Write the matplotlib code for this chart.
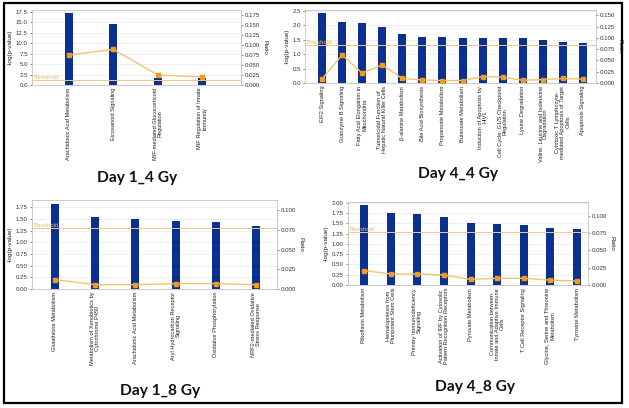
import matplotlib
matplotlib.use("Agg")
import matplotlib.pyplot as plt
from matplotlib.patches import Rectangle

plt.rcParams["font.family"] = ["Liberation Sans Narrow", "Liberation Sans", "DejaVu Sans"]

W, H = 629, 408
BAR = "#0a3191"
MARK = "#f09a1e"
LINE = "#f3c46e"
THRESH = 1.3

# Day 1_4 Gy
d14_names = ["Arachidonic Acid Metabolism", "Eicosanoid Signaling",
             "MIF-mediated Glucocorticoid\nRegulation", "MIF Regulation of Innate\nImmunity"]
d14_logp = [17.26, 14.56, 1.75, 1.59]
d14_ratio = [0.075, 0.089, 0.025, 0.020]

# Day 4_4 Gy
d44_names = ["EIF2 Signaling", "Granzyme B Signaling", "Fatty Acid Elongation in\nMitochondria",
             "Tumoricidal Function of\nHepatic Natural Killer Cells", "β-alanine Metabolism",
             "Bile Acid Biosynthesis", "Propanoate Metabolism", "Butanoate Metabolism",
             "Induction of Apoptosis by\nHIV1", "Cell Cycle: G1/S Checkpoint\nRegulation",
             "Lysine Degradation", "Valine, Leucine and Isoleucine\nDegradation",
             "Cytotoxic T Lymphocyte-\nmediated Apoptosis of Target\nCells", "Apoptosis Signaling"]
d44_logp = [2.43, 2.11, 2.06, 1.95, 1.70, 1.59, 1.58, 1.55, 1.54, 1.54, 1.54, 1.50, 1.42, 1.37]
d44_ratio = [0.009, 0.062, 0.022, 0.040, 0.010, 0.0067, 0.0053, 0.0053, 0.0143, 0.013,
             0.006, 0.0075, 0.010, 0.0085]

# Day 1_8 Gy
d18_names = ["Glutathione Metabolism", "Metabolism of Xenobiotics by\nCytochrome P450",
             "Arachidonic Acid Metabolism", "Aryl Hydrocarbon Receptor\nSignaling",
             "Oxidative Phosphorylation", "NRF2-mediated Oxidative\nStress Response"]
d18_logp = [1.82, 1.54, 1.50, 1.46, 1.44, 1.36]
d18_ratio = [0.0119, 0.0055, 0.0055, 0.0068, 0.0068, 0.0055]

# Day 4_8 Gy
d48_names = ["Riboflavin Metabolism", "Hematopoiesis from\nPluripotent Stem Cells",
             "Primary Immunodeficiency\nSignaling", "Activation of IRF by Cytosolic\nPattern Recognition Receptors",
             "Pyruvate Metabolism", "Communication between\nInnate and Adaptive Immune\nCells",
             "T Cell Receptor Signaling", "Glycine, Serine and Threonine\nMetabolism", "Tyrosine Metabolism"]
d48_logp = [1.95, 1.75, 1.73, 1.65, 1.50, 1.49, 1.45, 1.39, 1.37]
d48_ratio = [0.0208, 0.016, 0.016, 0.0145, 0.008, 0.0097, 0.0097, 0.007, 0.0058]


def px_rect(x0, y0, x1, y1):
    return [x0 / W, 1 - y1 / H, (x1 - x0) / W, (y1 - y0) / H]


def draw_panel(fig, box, names, logp, ratio, ylim, ystep, yfmt, rlim, bar_px, xpad, title, title_xy):
    ax = fig.add_axes(px_rect(*box))
    n = len(names)
    x = list(range(n))
    spacing = (box[2] - box[0]) / (n - 1 + xpad[0] + xpad[1])
    ax.set_xlim(-xpad[0], n - 1 + xpad[1])
    ax.set_ylim(*ylim)

    yt = [i * ystep for i in range(int(ylim[1] / ystep + 1e-6) + 1)]
    ax.set_yticks(yt)
    ax.set_yticklabels([yfmt % v for v in yt])
    ax.yaxis.grid(True, color="#ececec", lw=0.6)
    ax.set_axisbelow(True)

    ax.bar(x, logp, width=bar_px / spacing, color=BAR, zorder=2)
    ax.axhline(THRESH, color="#f2c88a", lw=0.7, zorder=3)
    ax.text(-xpad[0] + 0.02, THRESH, "Threshold", color="#eab862", fontsize=4.2,
            va="bottom", ha="left", zorder=4)

    ax.set_xticks(x)
    ax.set_xticklabels(names, rotation=90, fontsize=4.1, ha="center", va="top",
                       multialignment="center", color="#222222", linespacing=1.0)
    ax.tick_params(axis="x", length=0, pad=2)
    ax.tick_params(axis="y", labelsize=4.4, length=1.5, width=0.4, pad=1.5,
                   colors="#333333")
    ax.set_ylabel("-log(p-value)", fontsize=4.6, labelpad=2, color="#222222")
    for s in ax.spines.values():
        s.set_color("#c8c8c8")
        s.set_linewidth(0.5)

    ax2 = ax.twinx()
    ax2.set_ylim(*rlim)
    rt = [i * 0.025 for i in range(int(rlim[1] / 0.025 + 1e-6) + 1)]
    ax2.set_yticks(rt)
    ax2.set_yticklabels(["%.3f" % v for v in rt])
    ax2.plot(x, ratio, color=LINE, lw=1.0, zorder=5)
    ax2.plot(x, ratio, ls="none", marker="s", ms=2.6, color=MARK, zorder=6)
    ax2.tick_params(axis="y", labelsize=4.4, length=1.5, width=0.4, pad=1.5,
                    colors="#333333")
    ax2.set_ylabel("Ratio", fontsize=4.6, rotation=-90, labelpad=5, color="#222222")
    for s in ax2.spines.values():
        s.set_color("#c8c8c8")
        s.set_linewidth(0.5)

    fig.text(title_xy[0] / W, 1 - title_xy[1] / H, title, fontsize=11.2,
             fontweight="bold", family="Lato", ha="center", va="center", color="#111111")


fig = plt.figure(figsize=(W / 100, H / 100), dpi=100)

draw_panel(fig, (32, 10, 241, 85), d14_names, d14_logp, d14_ratio, (0, 17.9), 2.5, "%.1f",
           (0, 0.1875), 8, (0.83, 0.87), "Day 1_4 Gy", (137, 178))
draw_panel(fig, (305, 10, 596, 83), d44_names, d44_logp, d44_ratio, (0, 2.52), 0.5, "%.1f",
           (0, 0.162), 8, (0.85, 0.65), "Day 4_4 Gy", (458, 174))
draw_panel(fig, (32, 200, 277, 289), d18_names, d18_logp, d18_ratio, (0, 1.91), 0.25, "%.2f",
           (0, 0.1127), 8, (0.57, 0.52), "Day 1_8 Gy", (160, 391))
draw_panel(fig, (348, 202, 588, 285), d48_names, d48_logp, d48_ratio, (0, 2.02), 0.25, "%.2f",
           (0, 0.12), 8, (0.6, 0.41), "Day 4_8 Gy", (475, 387))

fig.patches.append(Rectangle((4 / W, 1 - 403 / H), 618 / W, 400 / H, transform=fig.transFigure,
                             fill=False, edgecolor="black", lw=1.6))

fig.savefig("out.png", dpi=100)
